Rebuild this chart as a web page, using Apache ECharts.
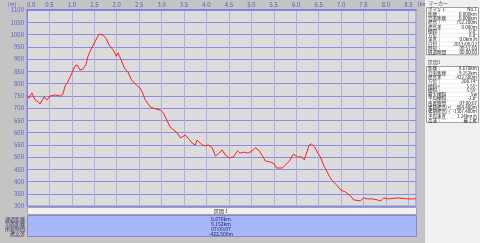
<!DOCTYPE html>
<html><head><meta charset="utf-8">
<script src="https://cdn.jsdelivr.net/npm/echarts@6/dist/echarts.min.js"></script>
<style>html,body{margin:0;padding:0;background:#c4c4c4;}#c{width:480px;height:243px;}</style>
</head><body><div id="c"></div>
<script>
// ---- data ----
const distKm = [0.00,0.04,0.11,0.18,0.25,0.29,0.38,0.45,0.51,0.63,0.74,0.80,0.85,0.92,1.00,1.07,1.12,1.18,1.25,1.32,1.36,1.43,1.50,1.56,1.61,1.70,1.76,1.83,1.92,1.99,2.03,2.10,2.17,2.25,2.32,2.39,2.46,2.52,2.57,2.63,2.75,2.86,2.97,3.04,3.19,3.35,3.42,3.53,3.57,3.68,3.75,3.79,3.86,3.95,4.04,4.13,4.20,4.26,4.35,4.42,4.51,4.60,4.69,4.75,4.84,4.93,5.02,5.09,5.16,5.25,5.31,5.42,5.51,5.56,5.69,5.76,5.85,5.94,6.03,6.12,6.18,6.23,6.29,6.34,6.41,6.47,6.54,6.61,6.70,6.79,6.90,6.99,7.10,7.21,7.28,7.43,7.50,7.59,7.70,7.81,7.88,7.95,8.04,8.26,8.48,8.62,8.67];
const elevM = [752,740,762,733,725,716,745,733,749,753,749,757,790,810,843,871,876,855,859,880,912,941,965,986,1002,996,986,957,937,912,925,896,863,847,818,802,790,782,765,735,704,696,692,680,622,598,578,590,598,557,549,569,557,545,549,537,504,512,529,508,496,500,525,516,520,516,525,537,529,504,484,480,472,455,455,467,484,512,500,500,488,516,549,553,541,520,500,467,435,406,386,365,357,341,325,321,333,329,329,325,320,333,329,333,329,329,330];
const xUnit = '[km]';
const yUnit = '[m]';
const sectionTitle = '区間 1';
const summaryLabels = ['通過距離','沿面距離','所要時間','標高差'];
const summaryValues = ['8.670km','9.152km','07:00:07','-422.500m'];
const markerTitle = 'マーカー';
const markerLabels = ['ポイント','距離','沿面距離','標高','標高差','傾斜','方位','速度','日付','時刻','経過時間'];
const markerValues = ['No.1','0.000km','0.000km','752.200m','0.000m','0.0°','0.0°','0.0km/h','2013/08/22','09:51:00','00:00:00'];
const sectTitle2 = '区間1';
const sectLabels = ['距離','沿面距離','標高差','方位','傾斜+','傾斜-','最大傾斜','平均傾斜','所要時間','累積標高(+)','累積標高(-)','平均速度','高速'];
const sectValues = ['8.670km','9.152km','-422.500m','208.74°','5.55°','-5.55°','-5w','-2.8°','07:00:07','884.400m','-1307.400m','1.24km/h','最上昇'];

// ---- chart ----
const FONT = '"Noto Sans CJK JP", "DejaVu Sans", sans-serif';
const chart = echarts.init(document.getElementById('c'), null, {renderer:'canvas'});
const g = [];
// bottom section strip and table
g.push({type:'rect', shape:{x:27.5,y:207.5,width:389,height:7}, style:{fill:'#f3f1ea', stroke:'#a0a0b8', lineWidth:1}, silent:true});
g.push({type:'text', x:221, y:211, style:{text:sectionTitle, font:'5px '+FONT, fill:'#303050', align:'center', verticalAlign:'middle'}});
g.push({type:'rect', shape:{x:27.5,y:215.5,width:389,height:21}, style:{fill:'#a8b7fa', stroke:'#8888c4', lineWidth:1}, silent:true});
summaryLabels.forEach((t,i)=>{
  g.push({type:'text', x:25, y:219+i*5, style:{text:t, font:'5px '+FONT, fill:'#303058', align:'right', verticalAlign:'middle'}});
  g.push({type:'text', x:221, y:219+i*5, style:{text:summaryValues[i], font:'5px '+FONT, fill:'#202060', align:'center', verticalAlign:'middle'}});
});
// unit labels
g.push({type:'text', x:8, y:4, style:{text:yUnit, font:'5px '+FONT, fill:'#5050b8', align:'left', verticalAlign:'middle'}});
g.push({type:'text', x:418, y:4, style:{text:xUnit, font:'5px '+FONT, fill:'#5050b8', align:'left', verticalAlign:'middle'}});
// right panel
g.push({type:'rect', shape:{x:425,y:0,width:55,height:243}, style:{fill:'#f0f0f0'}, silent:true});
function panelSection(title, titleY, boxY, labels, values){
  const rh = 4.3;
  g.push({type:'text', x:428, y:titleY, style:{text:title, font:'5px '+FONT, fill:'#505070', align:'left', verticalAlign:'middle'}});
  g.push({type:'rect', shape:{x:426.5,y:boxY+0.5,width:52,height:labels.length*rh}, style:{fill:'#ffffff', stroke:'#a0a0a0', lineWidth:1}, silent:true});
  g.push({type:'line', shape:{x1:439.5,y1:boxY,x2:439.5,y2:boxY+labels.length*rh}, style:{stroke:'#d0d0d0', lineWidth:1}, silent:true});
  labels.forEach((t,i)=>{
    const cy = boxY + rh*i + rh/2 + 0.5;
    if(i>0) g.push({type:'line', shape:{x1:427,y1:boxY+rh*i+0.5,x2:478,y2:boxY+rh*i+0.5}, style:{stroke:'#e0e0e0', lineWidth:0.6}, silent:true});
    g.push({type:'text', x:428, y:cy, style:{text:t, font:'4.5px '+FONT, fill:'#202020', align:'left', verticalAlign:'middle'}});
    g.push({type:'text', x:477, y:cy, style:{text:values[i], font:'4.5px '+FONT, fill:'#202020', align:'right', verticalAlign:'middle'}});
  });
}
panelSection(markerTitle, 3, 7, markerLabels, markerValues);
panelSection(sectTitle2, 62, 66, sectLabels, sectValues);

chart.setOption({
  backgroundColor:'#c4c4c4',
  animation:false,
  textStyle:{fontFamily:FONT},
  grid:{left:27, top:10, width:389, height:196, show:true, backgroundColor:'#dcdcdc', borderColor:'#8484e4', borderWidth:1},
  xAxis:{type:'value', position:'top', min:0, max:8.67, interval:0.5,
    axisLine:{show:true, lineStyle:{color:'#8484e4', width:2}}, axisTick:{show:false},
    axisLabel:{fontSize:6, color:'#5a5ac0', margin:2, showMaxLabel:false, alignMinLabel:'left', formatter:v=>v.toFixed(1)},
    splitLine:{show:true, lineStyle:{color:'#b0b0dc', width:1}}},
  yAxis:{type:'value', min:300, max:1100, interval:50,
    axisLine:{show:true, lineStyle:{color:'#8484e4'}}, axisTick:{show:false},
    axisLabel:{fontSize:6, color:'#6060c8', margin:3, formatter:v=>String(v)},
    splitLine:{show:true, lineStyle:{color:'#8c8ce0', width:1}}},
  series:[{type:'line', data:distKm.map((d,i)=>[d,elevM[i]]), showSymbol:false, lineStyle:{color:'#ff1e1e', width:1}, silent:true}],
  graphic:g
});
</script></body></html>
